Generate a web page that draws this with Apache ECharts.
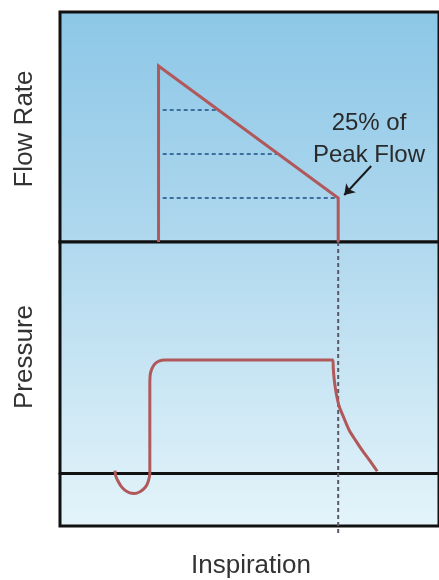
<!DOCTYPE html>
<html>
<head>
<meta charset="utf-8">
<script src="https://cdn.jsdelivr.net/npm/echarts@6/dist/echarts.min.js"></script>
<style>
html,body{margin:0;padding:0;background:#ffffff;}
#chart{width:439px;height:580px;}
</style>
</head>
<body>
<div id="chart"></div>
<script>
// ---- data (time in arbitrary units 0..100) ----
const flowTime = [26, 26, 73.4, 73.4];
const flowValue = [0, 100, 25, 0];

const levelValues = [75, 50, 25];          // % of peak flow guide lines
const levelStart = [27.1, 27.1, 27.1];
const levelEnd = [41.8, 57.6, 72.6];

const pressureTime = [14.5, 14.7, 15.3, 16.1, 17.1, 18.4, 19.7, 21.1, 22.1, 22.9, 23.4, 23.7, 23.7, 23.7, 23.8, 24.2, 25.0, 26.1, 27.6, 72.0, 72.1, 72.4, 72.9, 73.7, 75.0, 76.3, 77.9, 79.7, 81.6, 83.7];
const pressureValue = [0.4, -0.5, -1.4, -2.3, -3.0, -3.5, -3.6, -3.3, -2.8, -2.1, -1.2, -0.2, 1.4, 15.4, 17.2, 18.2, 19.1, 19.6, 19.8, 19.8, 18.4, 16.1, 13.9, 11.6, 9.5, 7.5, 5.8, 4.0, 2.3, 0.3];

const endInspTime = 73.4;
const endGuide = [40.5, -10.6];

const arrowFrom = [82.1, 43.2];
const arrowTo = [75.0, 26.7];

const labels = { flow: 'Flow Rate', pressure: 'Pressure', time: 'Inspiration', note: '25% of\nPeak Flow' };

// ---- build ----
const pair = (xs, ys) => xs.map((x, i) => [x, ys[i]]);
const curveColor = '#b0585a';

const levelSeries = levelValues.map((v, i) => ({
  type: 'line', xAxisIndex: 0, yAxisIndex: 0, symbol: 'none', silent: true,
  data: [[levelStart[i], v], [levelEnd[i], v]],
  lineStyle: { color: '#3d6f9e', width: 2, type: [4, 3] },
  z: 3
}));

const option = {
  animation: false,
  backgroundColor: '#ffffff',
  grid: [
    { left: 60, right: -1, top: 12, height: 230, show: true, borderColor: '#111', borderWidth: 3,
      backgroundColor: new echarts.graphic.LinearGradient(0, 0, 0, 1, [
        { offset: 0, color: '#8cc7e7' }, { offset: 1, color: '#b0d8ee' }]) },
    { left: 60, right: -1, top: 242, height: 284, show: true, borderColor: '#111', borderWidth: 3,
      backgroundColor: new echarts.graphic.LinearGradient(0, 0, 0, 1, [
        { offset: 0, color: '#b0d8ee' }, { offset: 1, color: '#e4f4fa' }]) }
  ],
  xAxis: [
    { gridIndex: 0, type: 'value', min: 0, max: 100, show: false },
    { gridIndex: 1, type: 'value', min: 0, max: 100,
      axisLine: { show: true, onZero: true, lineStyle: { color: '#111', width: 3 } },
      axisTick: { show: false }, axisLabel: { show: false }, splitLine: { show: false } }
  ],
  yAxis: [
    { gridIndex: 0, type: 'value', min: 0, max: 130.7, show: false },
    { gridIndex: 1, type: 'value', min: -9.3, max: 40.5, show: false }
  ],
  graphic: [
    { type: 'text', x: 25, y: 129, rotation: Math.PI / 2,
      style: { text: labels.flow, font: '26px "Liberation Sans", Arial, sans-serif', fill: '#333', align: 'center', verticalAlign: 'middle' } },
    { type: 'text', x: 25, y: 357, rotation: Math.PI / 2,
      style: { text: labels.pressure, font: '26px "Liberation Sans", Arial, sans-serif', fill: '#333', align: 'center', verticalAlign: 'middle' } },
    { type: 'text', x: 251, y: 566,
      style: { text: labels.time, font: '26px "Liberation Sans", Arial, sans-serif', fill: '#333', align: 'center', verticalAlign: 'middle' } },
    { type: 'text', x: 369, y: 139,
      style: { text: labels.note, font: '24px "Liberation Sans", Arial, sans-serif', fill: '#2a2a2a', align: 'center', verticalAlign: 'middle', lineHeight: 32 } }
  ],
  series: [
    ...levelSeries,
    { type: 'line', xAxisIndex: 0, yAxisIndex: 0, symbol: 'none', silent: true,
      data: pair(flowTime, flowValue),
      lineStyle: { color: curveColor, width: 3, join: 'miter' }, z: 4,
      markLine: { silent: true, symbol: ['none', 'arrow'], symbolSize: 10,
        lineStyle: { color: '#1a1a1a', width: 2, type: 'solid' }, label: { show: false },
        data: [[{ coord: arrowFrom }, { coord: arrowTo }]] } },
    { type: 'line', xAxisIndex: 1, yAxisIndex: 1, symbol: 'none', silent: true, clip: false,
      data: [[endInspTime, endGuide[0]], [endInspTime, endGuide[1]]],
      lineStyle: { color: '#5c5868', width: 2, type: [4, 3] }, z: 3 },
    { type: 'line', xAxisIndex: 1, yAxisIndex: 1, symbol: 'none', silent: true, smooth: 0.2,
      data: pair(pressureTime, pressureValue),
      lineStyle: { color: curveColor, width: 3 }, z: 4 }
  ]
};

const chart = echarts.init(document.getElementById('chart'), null, { renderer: 'canvas' });
chart.setOption(option);
</script>
</body>
</html>
